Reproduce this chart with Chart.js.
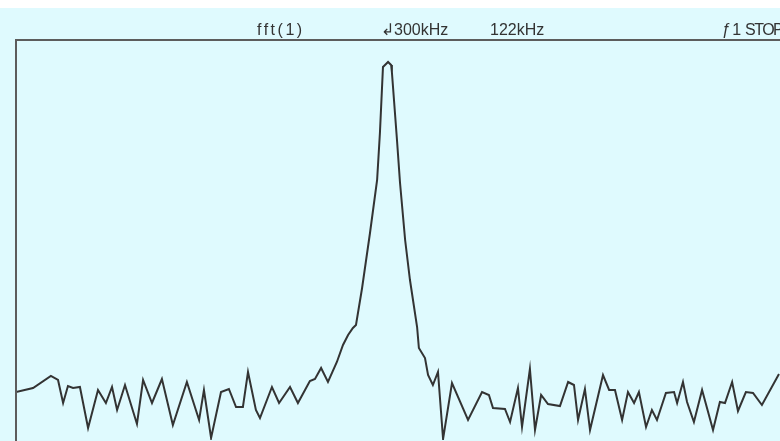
<!DOCTYPE html>
<html>
<head>
<meta charset="utf-8">
<script src="https://cdn.jsdelivr.net/npm/chart.js@4"></script>
<style>
  html, body { margin: 0; padding: 0; background: #fff; }
  #wrap { position: relative; width: 780px; height: 441px; }
</style>
</head>
<body>
<div id="wrap"><canvas id="fft" width="780" height="441"></canvas></div>
<script>
// Spektrum (kHz / dB)
// ----------------------------------------------------------------------------------------
const freqKHz = [
  0, 67, 137, 165, 185, 204, 224, 251, 283, 322, 353, 377, 397, 428, 475, 499, 534, 573, 616, 671,
  719, 738, 766, 805, 836, 864, 891, 911, 942, 958, 1005, 1033, 1076, 1107, 1154, 1174, 1198, 1225, 1260, 1284,
  1304, 1323, 1335, 1359, 1390, 1418, 1429, 1441, 1461, 1473, 1476, 1496, 1508, 1528, 1547, 1575, 1582, 1606, 1618, 1637,
  1657, 1677, 1712, 1775, 1830, 1857, 1873, 1920, 1940, 1971, 1987, 2018, 2038, 2062, 2089, 2136, 2168, 2191, 2207, 2234,
  2254, 2305, 2329, 2352, 2380, 2403, 2427, 2446, 2474, 2497, 2517, 2552, 2584, 2596, 2619, 2635, 2662, 2694, 2737, 2764,
  2784, 2812, 2835, 2866, 2894, 2929, 2996
];
const levelDb = [
  -70.4, -69.6, -67.2, -68.0, -72.6, -69.2, -69.6, -69.4, -77.6, -70.0, -72.6, -69.4, -74.0, -69.0, -76.8, -68.0, -72.6, -67.8, -77.0, -68.4,
  -76.0, -70.0, -79.6, -70.4, -69.8, -73.4, -73.4, -66.4, -74.0, -75.6, -69.4, -72.6, -69.4, -72.6, -68.2, -67.8, -65.6, -68.4, -64.4, -61.0,
  -59.0, -57.6, -57.0, -49.6, -38.6, -28.0, -18.6, -5.4, -4.4, -5.0, -6.4, -20.0, -28.6, -40.0, -48.0, -57.4, -61.6, -63.6, -67.0, -69.0,
  -66.4, -79.8, -68.6, -76.0, -70.4, -71.0, -73.6, -73.8, -76.4, -69.6, -77.4, -65.8, -78.0, -71.0, -72.8, -73.2, -68.4, -69.0, -76.0, -69.8,
  -78.0, -67.0, -70.0, -70.0, -76.0, -70.4, -72.6, -70.4, -77.4, -74.0, -76.0, -70.6, -70.4, -72.6, -68.4, -72.4, -76.4, -70.0, -78.0, -72.4,
  -72.6, -68.4, -74.2, -70.4, -70.6, -73.0, -66.8
];

// Kopfzeile des Oszilloskops
const headerTexts   = ['fft(1)', '\u21B2300kHz', '122kHz', '\u0192\u200A1', 'STOP'];
const headerX       = [257, 381, 490, 722, 745];
const headerSpacing = ['2.5px', '0px', '0px', '0px', '-1.5px'];

const BG = 'rgb(223,250,254)';
const INK = '#333';

// Hintergrund, Rahmen und Kopfzeile
// ----------------------------------------------------------------------------------------
const scopeFrame = {
  id: 'scopeFrame',
  beforeDraw(chart) {
    const { ctx, width, height } = chart;
    ctx.save();
    ctx.fillStyle = '#fff';
    ctx.fillRect(0, 0, width, height);
    ctx.fillStyle = BG;
    ctx.fillRect(0, 8, width, height - 8);
    ctx.restore();
  },
  afterDraw(chart) {
    const { ctx, chartArea: a } = chart;
    ctx.save();
    ctx.strokeStyle = '#5c5c5c';
    ctx.lineWidth = 2;
    ctx.beginPath();
    ctx.moveTo(a.left, chart.height);
    ctx.lineTo(a.left, a.top);
    ctx.lineTo(a.right, a.top);
    ctx.stroke();

    ctx.fillStyle = INK;
    ctx.font = '16px "Liberation Sans", sans-serif';
    ctx.textBaseline = 'alphabetic';
    headerTexts.forEach((t, i) => {
      ctx.letterSpacing = headerSpacing[i];
      ctx.fillText(t, headerX[i], 35);
    });
    ctx.restore();
  }
};

new Chart(document.getElementById('fft'), {
  type: 'line',
  data: {
    datasets: [{
      data: freqKHz.map((f, i) => ({ x: f, y: levelDb[i] })),
      borderColor: INK,
      borderWidth: 2,
      pointRadius: 0,
      tension: 0,
      fill: false
    }]
  },
  options: {
    responsive: false,
    animation: false,
    layout: { padding: { top: 40, left: 16, right: 0, bottom: 1 } },
    plugins: { legend: { display: false }, tooltip: { enabled: false } },
    scales: {
      x: { type: 'linear', min: 0, max: 3000, display: false },
      y: { min: -80, max: 0, display: false }
    }
  },
  plugins: [scopeFrame]
});
</script>
</body>
</html>
